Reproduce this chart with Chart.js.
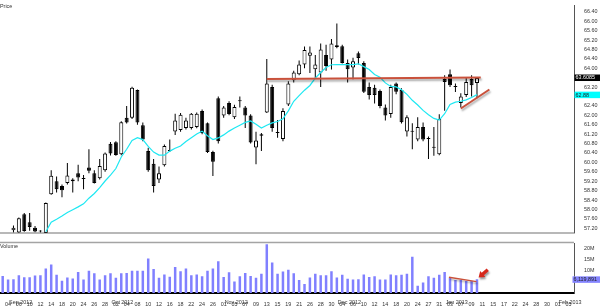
<!DOCTYPE html>
<html>
<head>
<meta charset="utf-8">
<title>Price / Volume</title>
<script src="https://cdn.jsdelivr.net/npm/chart.js@4.4.1/dist/chart.umd.min.js"></script>
<style>
  body { margin: 0; background: #fff; width: 600px; height: 306px; overflow: hidden; position: relative; }
  #pricePane { position: absolute; left: 0; top: 0; width: 600px; height: 238px; }
  #volPane   { position: absolute; left: 0; top: 238px; width: 600px; height: 68px; }
</style>
</head>
<body>
<div id="pricePane"><canvas id="priceChart"></canvas></div>
<div id="volPane"><canvas id="volChart"></canvas></div>
<script>
// ── trading days, Aug 31 2012 .. Feb 06 2013 (index = x position) ──
const days = [
  '31','04','05','06','07','10','11','12','13','14','17','18','19','20','21','24','25','26','27','28',
  '01','02','03','04','05','08','09','10','11','12','15','16','17','18','19','22','23','24','25','26','31',
  '01','02','05','06','07','08','09','12','13','14','15','16','19','20','21','23','26','27','28','29','30',
  '03','04','05','06','07','10','11','12','13','14','17','18','19','20','21','24','26','27','28','31',
  '02','03','04','07','08','09','10','11','14','15','16','17','18','22','23','24','25','28','29','30','31',
  '01','04','05','06'
];
const monthStarts = [1, 20, 41, 62, 82, 103];
const monthNames  = ['Sep 2012', 'Oct 2012', 'Nov 2012', 'Dec 2012', 'Jan 2013', 'Feb 2013'];

// ── daily candles ──
const opens = [
  56.80, 56.90, 57.12, 57.02, 57.80, 57.46, 57.22, 57.08, 57.00, 58.65,
  59.20, 59.00, 59.13, 59.20, 59.54, 59.30, 59.78, 59.54, 59.33, 59.67,
  60.79, 60.86, 60.35, 61.90, 61.90, 63.08, 61.58, 60.49, 59.94, 59.27,
  59.88, 60.49, 61.31, 61.38, 61.46, 61.46, 61.50, 62.19, 61.66, 60.44,
  62.73, 61.99, 62.53, 61.92, 62.60, 62.33, 61.99, 60.63, 61.20, 62.12,
  63.21, 61.26, 61.00, 62.46, 63.49, 63.75, 64.16, 64.53, 63.96, 63.82,
  64.57, 64.37, 64.98, 64.94, 64.23, 64.03, 64.64, 64.23, 63.21, 63.17,
  63.04, 62.33, 62.06, 63.35, 63.08, 61.31, 61.30, 60.97, 61.51, 61.00,
  60.63, 60.35, 63.55, 63.75, 63.21, 62.53, 62.87, 63.55, 63.37
];
const highs = [
  56.95, 56.98, 57.32, 57.66, 57.85, 57.85, 57.30, 57.12, 58.30, 59.67,
  59.40, 59.06, 59.98, 59.33, 59.90, 59.47, 60.56, 59.67, 60.15, 60.42,
  60.87, 60.90, 61.75, 62.40, 63.22, 63.10, 61.70, 60.62, 60.15, 59.83,
  60.76, 60.97, 62.07, 62.10, 61.90, 62.10, 62.12, 62.25, 61.70, 60.50,
  62.80, 62.40, 62.60, 62.45, 62.80, 62.40, 62.05, 61.30, 61.25, 64.40,
  63.30, 61.80, 62.30, 63.45, 63.90, 64.33, 64.93, 64.93, 64.57, 65.05,
  65.00, 65.25, 65.90, 65.00, 64.37, 64.45, 64.71, 64.30, 63.40, 63.30,
  63.10, 62.46, 63.30, 63.40, 63.15, 62.00, 61.66, 61.92, 61.70, 61.10,
  61.51, 62.05, 63.70, 63.95, 63.35, 62.94, 63.60, 63.70, 63.60
];
const lows = [
  56.70, 56.75, 57.02, 57.00, 57.05, 57.10, 57.03, 57.02, 56.95, 58.63,
  58.72, 58.52, 59.06, 58.72, 59.20, 58.86, 59.54, 59.10, 59.27, 59.60,
  60.29, 60.28, 60.30, 61.65, 61.85, 61.60, 60.90, 59.60, 58.72, 59.13,
  59.83, 60.44, 61.17, 61.30, 61.40, 61.40, 61.45, 61.20, 60.40, 59.42,
  60.80, 61.90, 62.00, 61.85, 62.33, 61.46, 60.80, 59.92, 60.48, 62.10,
  61.30, 61.05, 60.90, 62.40, 63.40, 63.70, 64.00, 63.80, 63.55, 63.20,
  63.90, 63.95, 64.85, 64.20, 63.40, 63.53, 64.16, 62.95, 62.67, 62.50,
  62.30, 61.78, 61.90, 62.90, 61.65, 61.10, 60.56, 60.90, 60.90, 60.15,
  60.28, 60.30, 62.20, 63.20, 62.99, 62.33, 62.78, 62.80, 62.73
];
const closes = [
  56.90, 56.85, 57.22, 57.63, 57.09, 57.25, 57.06, 57.06, 58.27, 59.43,
  58.86, 58.82, 59.44, 59.27, 59.36, 59.29, 59.65, 59.13, 59.85, 60.38,
  60.38, 60.31, 61.71, 61.70, 63.17, 61.70, 60.97, 59.67, 59.00, 59.54,
  60.70, 60.50, 61.78, 62.03, 61.78, 62.07, 62.07, 61.25, 60.44, 60.03,
  60.90, 62.33, 62.06, 62.36, 62.60, 61.99, 60.85, 60.93, 61.13, 63.35,
  61.46, 61.25, 62.19, 63.35, 63.82, 64.16, 64.78, 64.67, 64.16, 64.80,
  64.10, 65.05, 64.90, 64.23, 63.96, 64.30, 64.44, 63.00, 62.87, 62.87,
  62.40, 61.99, 63.21, 63.00, 61.71, 61.92, 61.31, 61.51, 60.97, 60.99,
  60.62, 61.85, 63.42, 63.28, 63.20, 62.80, 63.42, 63.28, 63.59
];
// moving average as drawn (cyan)
const maValues = [
  null, null, null, null, null, null, null, null, 57.05, 57.46,
  57.58, 57.72, 57.87, 57.99, 58.11, 58.24, 58.48, 58.68, 58.93, 59.21,
  59.46, 59.74, 60.23, 60.56, 60.93, 61.05, 60.97, 60.68, 60.44, 60.31,
  60.31, 60.48, 60.60, 60.70, 60.89, 61.05, 61.21, 61.33, 61.13, 60.97,
  61.04, 61.17, 61.33, 61.46, 61.58, 61.70, 61.76, 61.62, 61.46, 61.58,
  61.68, 61.74, 61.85, 62.19, 62.60, 62.84, 63.07, 63.27, 63.58, 63.82,
  64.03, 64.15, 64.16, 64.16, 64.16, 64.16, 64.19, 64.07, 63.95, 63.74,
  63.62, 63.38, 63.23, 63.21, 63.09, 62.89, 62.64, 62.44, 62.21, 62.03,
  61.87, 61.80, 62.07, 62.46, 62.56, 62.60, 62.66, 62.76, 62.88
];
// volume, shares
const volumes = [
  7.6e6, 6.1e6, 6.2e6, 7.9e6, 7.1e6, 7.1e6, 7.8e6, 7.9e6, 11.0e6, 12.8e6,
  8.2e6, 5.5e6, 6.9e6, 6.5e6, 9.4e6, 6.0e6, 10.0e6, 8.9e6, 6.1e6, 7.9e6,
  8.9e6, 6.8e6, 8.9e6, 9.0e6, 10.0e6, 10.0e6, 10.0e6, 15.5e6, 10.8e6, 6.8e6,
  8.3e6, 7.3e6, 11.7e6, 9.8e6, 11.0e6, 7.9e6, 8.3e6, 7.5e6, 10.0e6, 11.0e6,
  14.2e6, 7.2e6, 9.3e6, 5.1e6, 7.5e6, 9.0e6, 7.6e6, 6.8e6, 8.6e6, 21.8e6,
  13.7e6, 8.6e6, 9.6e6, 10.4e6, 8.9e6, 5.8e6, 4.0e6, 6.9e6, 8.6e6, 7.9e6,
  7.9e6, 9.7e6, 6.9e6, 8.2e6, 6.4e6, 6.1e6, 6.2e6, 8.3e6, 7.2e6, 7.5e6,
  6.1e6, 6.1e6, 8.3e6, 7.9e6, 8.2e6, 8.6e6, 16.2e6, 3.3e6, 4.7e6, 7.5e6,
  6.8e6, 8.2e6, 9.4e6, 6.8e6, 5.8e6, 5.8e6, 5.4e6, 5.4e6, 6119891
];

// ── axis ticks ──
const priceTicks = [57.2, 57.6, 58.0, 58.4, 58.8, 59.2, 59.6, 60.0, 60.4, 60.8, 61.2, 61.6,
                    62.0, 62.4, 63.2, 64.0, 64.4, 64.8, 65.2, 65.6, 66.0, 66.4];
const volTicks = [10e6, 15e6, 20e6];
const dayTicks = days.map((d, i) => i).filter(i => i % 2 === 1);

// ── drawn annotations (index, value) ──
const resistanceLine = [[49, 63.55], [88.7, 63.61]];
const supportLine    = [[85.0, 62.29], [90.3, 63.10]];
const volTrendLine   = [[82.8, 7.1e6], [87.9, 5.1e6]];
const volArrow       = { tip: [88.3, 6.9e6], tail: [90.0, 10.4e6] };
const resistanceLevel = 63.6085;
const lastMa = maValues[maValues.length - 1];
const lastVolume = volumes[volumes.length - 1];

const FONT = { family: '"Liberation Sans", Arial, sans-serif', size: 5.4 };
const TEXT = '#333';
const RED = '#c9513b';

const xBase = () => ({
  type: 'linear', min: -0.5, max: 106, offset: false,
  grid: { display: false },
  afterBuildTicks: s => { s.ticks = dayTicks.map(v => ({ value: v })); }
});

// ── plugins ──
const paneTitle = {
  id: 'paneTitle',
  afterDraw(chart, args, opts) {
    const { ctx, chartArea } = chart;
    ctx.save();
    ctx.font = `${FONT.size}px ${FONT.family}`;
    ctx.fillStyle = TEXT;
    ctx.textBaseline = 'top';
    ctx.fillText(opts.text, 0, chartArea.top + (opts.dy || 0));
    ctx.restore();
  }
};

const axisBadges = {
  id: 'axisBadges',
  afterDraw(chart, args, opts) {
    const { ctx } = chart;
    const y = chart.scales.y;
    ctx.save();
    ctx.font = `${FONT.size}px ${FONT.family}`;
    ctx.textBaseline = 'middle';
    opts.items.forEach(b => {
      const py = y.getPixelForValue(b.value);
      const left = y.left + (b.dx || 0);
      ctx.fillStyle = b.bg;
      ctx.fillRect(left + 0.5, py - 3, chart.width - left, 6.5);
      ctx.fillStyle = b.fg;
      ctx.fillText(b.text, left + 1.5, py + 0.5);
    });
    ctx.restore();
  }
};

const lineShadow = {
  id: 'lineShadow',
  beforeDatasetDraw(chart, args) {
    if (!chart.data.datasets[args.index].shadow) return;
    const ctx = chart.ctx;
    ctx.save();
    ctx.shadowColor = 'rgba(0,0,0,0.35)';
    ctx.shadowOffsetX = 1;
    ctx.shadowOffsetY = 2;
    ctx.shadowBlur = 2;
  },
  afterDatasetDraw(chart, args) {
    if (chart.data.datasets[args.index].shadow) chart.ctx.restore();
  }
};

const monthRow = {
  id: 'monthRow',
  afterDraw(chart) {
    const { ctx } = chart;
    const x = chart.scales.x;
    ctx.save();
    ctx.font = `${FONT.size}px ${FONT.family}`;
    ctx.fillStyle = TEXT;
    ctx.textAlign = 'left';
    ctx.textBaseline = 'middle';
    monthStarts.forEach((m, k) => {
      ctx.fillText(monthNames[k], x.getPixelForValue(m) + 1, chart.height - 3.2);
    });
    ctx.restore();
  }
};

const topRule = {
  id: 'topRule',
  afterDraw(chart) {
    const { ctx, chartArea } = chart;
    ctx.save();
    ctx.fillStyle = '#a4a4a4';
    ctx.fillRect(0, chartArea.top - 1.5, chartArea.right, 1.5);
    ctx.restore();
  }
};

const arrowMark = {
  id: 'arrowMark',
  afterDatasetsDraw(chart) {
    const { ctx } = chart;
    const x = chart.scales.x, y = chart.scales.y;
    const tx = x.getPixelForValue(volArrow.tip[0]), ty = y.getPixelForValue(volArrow.tip[1]);
    const sx = x.getPixelForValue(volArrow.tail[0]), sy = y.getPixelForValue(volArrow.tail[1]);
    const len = Math.hypot(tx - sx, ty - sy);
    ctx.save();
    ctx.translate(tx, ty);
    ctx.rotate(Math.atan2(ty - sy, tx - sx));
    ctx.shadowColor = 'rgba(0,0,0,0.4)';
    ctx.shadowOffsetX = 1;
    ctx.shadowOffsetY = 2;
    ctx.shadowBlur = 2;
    ctx.fillStyle = '#d6281c';
    ctx.beginPath();
    ctx.moveTo(0, 0);
    ctx.lineTo(-5.5, -4);
    ctx.lineTo(-5.5, -1.7);
    ctx.lineTo(-len, -1.7);
    ctx.lineTo(-len, 1.7);
    ctx.lineTo(-5.5, 1.7);
    ctx.lineTo(-5.5, 4);
    ctx.closePath();
    ctx.fill();
    ctx.restore();
  }
};

Chart.defaults.font.family = FONT.family;
Chart.defaults.font.size = FONT.size;
Chart.defaults.color = TEXT;

// ── price pane ──
new Chart(document.getElementById('priceChart'), {
  type: 'bar',
  data: {
    datasets: [
      {
        type: 'line', label: 'Resistance', shadow: true,
        data: resistanceLine.map(p => ({ x: p[0], y: p[1] })),
        borderColor: RED, borderWidth: 2, pointRadius: 0, order: 0
      },
      {
        type: 'line', label: 'Support', shadow: true,
        data: supportLine.map(p => ({ x: p[0], y: p[1] })),
        borderColor: RED, borderWidth: 2, pointRadius: 0, order: 0
      },
      {
        type: 'line', label: 'MA',
        data: maValues.map((v, i) => ({ x: i, y: v })),
        borderColor: '#1ee8f2', borderWidth: 1.2, pointRadius: 0, order: 1, clip: 0
      },
      {
        label: 'Body',
        data: opens.map((o, i) => ({ x: i, y: [o, closes[i]] })),
        backgroundColor: c => closes[c.dataIndex] >= opens[c.dataIndex] ? '#ffffff' : '#000000',
        borderColor: '#000', borderWidth: 1, borderSkipped: false, minBarLength: 1,
        grouped: false, categoryPercentage: 1, barPercentage: 0.8, maxBarThickness: 4,
        order: 2, clip: 0
      },
      {
        label: 'Wick',
        data: lows.map((l, i) => ({ x: i, y: [l, highs[i]] })),
        backgroundColor: '#000', borderWidth: 0,
        grouped: false, categoryPercentage: 1, barPercentage: 0.2, maxBarThickness: 1,
        order: 3, clip: 0
      }
    ]
  },
  options: {
    responsive: true, maintainAspectRatio: false, animation: false,
    layout: { autoPadding: false, padding: { top: 0, bottom: 1, left: 0, right: 0 } },
    plugins: {
      legend: { display: false }, tooltip: { enabled: false },
      paneTitle: { text: 'Price', dy: -1 },
      axisBadges: {
        items: [
          { value: resistanceLevel, text: String(resistanceLevel), bg: '#000', fg: '#fff' },
          { value: lastMa, text: lastMa.toFixed(2), bg: '#00ffff', fg: '#222' }
        ]
      }
    },
    scales: {
      x: {
        ...xBase(),
        ticks: { display: false },
        border: { display: true, color: '#b8b8b8', width: 2 },
        afterFit: s => { s.height = 0; }
      },
      y: {
        type: 'linear', position: 'right', min: 57.01, max: 66.68,
        grid: { display: false },
        border: { display: true, color: '#555', width: 1 },
        ticks: { font: FONT, color: TEXT, padding: 2, callback: v => Number(v).toFixed(2) },
        afterBuildTicks: s => { s.ticks = priceTicks.map(v => ({ value: v })); },
        afterFit: s => { s.width = 26; }
      }
    }
  },
  plugins: [paneTitle, axisBadges, lineShadow]
});

// ── volume pane ──
new Chart(document.getElementById('volChart'), {
  type: 'bar',
  data: {
    datasets: [
      {
        type: 'line', label: 'Volume trend', shadow: true,
        data: volTrendLine.map(p => ({ x: p[0], y: p[1] })),
        borderColor: RED, borderWidth: 1.5, pointRadius: 0, order: 0
      },
      {
        label: 'Volume',
        data: volumes.map((v, i) => ({ x: i, y: v })),
        backgroundColor: '#8080ff', borderWidth: 0,
        barThickness: 2.5, inflateAmount: 0, order: 1
      }
    ]
  },
  options: {
    responsive: true, maintainAspectRatio: false, animation: false,
    layout: { autoPadding: false, padding: { top: 1.5, bottom: 0, left: 0, right: 0 } },
    plugins: {
      legend: { display: false }, tooltip: { enabled: false },
      paneTitle: { text: 'Volume', dy: 0.5 },
      axisBadges: {
        items: [
          { value: lastVolume, text: lastVolume.toLocaleString('en-US'), bg: '#8484ff', fg: '#222', dx: -2 }
        ]
      }
    },
    scales: {
      x: {
        ...xBase(),
        z: 1,
        ticks: { font: FONT, color: TEXT, padding: 0.5, maxRotation: 0, autoSkip: false, callback: v => days[v] },
        border: { display: true, color: '#000', width: 2 },
        afterFit: s => { s.height = 13; }
      },
      y: {
        type: 'linear', position: 'right', min: 0, max: 22.3e6,
        grid: { display: false },
        border: { display: true, color: '#555', width: 1 },
        ticks: { font: FONT, color: TEXT, padding: 2, callback: v => (v / 1e6) + 'M' },
        afterBuildTicks: s => { s.ticks = volTicks.map(v => ({ value: v })); },
        afterFit: s => { s.width = 26; }
      }
    }
  },
  plugins: [paneTitle, axisBadges, lineShadow, monthRow, topRule, arrowMark]
});
</script>
</body>
</html>
